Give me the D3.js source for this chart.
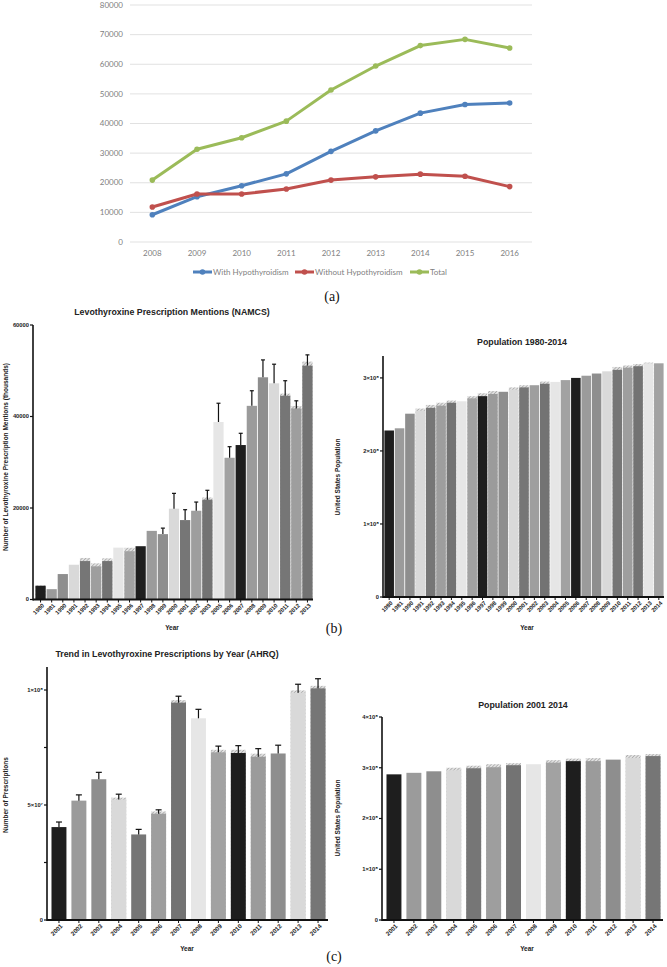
<!DOCTYPE html>
<html>
<head>
<meta charset="utf-8">
<script src="https://cdn.jsdelivr.net/npm/d3@7"></script>
<style>
  body { margin: 0; background: #fff; }
  svg { display: block; }
</style>
</head>
<body>
<script>
// ---- panel (a) data
const yearsA = ["2008","2009","2010","2011","2012","2013","2014","2015","2016"];
const withHypo = [9200, 15300, 19000, 23000, 30600, 37500, 43500, 46400, 46900];
const withoutHypo = [11800, 16200, 16200, 17900, 20900, 22000, 22900, 22200, 18700];
const totalA = [20900, 31300, 35200, 40800, 51300, 59400, 66300, 68400, 65500];
const seriesNames = ["With Hypothyroidism", "Without Hypothyroidism", "Total"];
const ticksA = [0, 10000, 20000, 30000, 40000, 50000, 60000, 70000, 80000];

// ---- panel (b) left: NAMCS mentions (thousands)
const yearsNamcs = ["1980","1981","1990","1991","1992","1993","1994","1995","1996","1997","1998","1999",
  "2000","2001","2002","2003","2005","2006","2007","2008","2009","2010","2011","2012","2013"];
const namcs = [3000, 2260, 5560, 7600, 8400, 7250, 8400, 11340, 10550, 11650, 15000, 14290,
  19850, 17360, 19400, 21820, 38800, 30980, 33760, 42330, 48570, 47250, 44530, 41760, 51120];
const namcsErr = [null, null, null, null, null, null, null, null, null, null, null, 15600,
  23200, 19630, 21300, 23870, 42900, 33400, 36330, 45630, 52370, 51430, 47820, 43430, 53470];
const namcsHatch = [3100, null, null, null, 9080, 7900, 9000, null, 11300, null, null, null,
  null, null, null, 22300, null, null, null, null, null, null, 45000, 42300, 52000];
const ticksNamcs = [0, 20000, 40000, 60000];

// ---- panel (b) right: population 1980-2014
const yearsPop1 = ["1980","1981","1990","1991","1992","1993","1994","1995","1996","1997","1998","1999",
  "2000","2001","2002","2003","2004","2005","2006","2007","2008","2009","2010","2011","2012","2013","2014"];
const pop1 = [2.28e8, 2.31e8, 2.51e8, 2.55e8, 2.59e8, 2.62e8, 2.66e8, 2.68e8, 2.72e8, 2.75e8, 2.78e8, 2.81e8,
  2.84e8, 2.87e8, 2.90e8, 2.92e8, 2.945e8, 2.97e8, 3.00e8, 3.03e8, 3.06e8, 3.09e8, 3.11e8, 3.14e8, 3.16e8, 3.20e8, 3.20e8];
const pop1Hatch = [null, null, null, 2.58e8, 2.63e8, 2.66e8, 2.69e8, null, 2.75e8, 2.79e8, 2.82e8, null,
  2.87e8, 2.90e8, null, 2.95e8, null, null, null, null, null, null, 3.15e8, 3.17e8, 3.19e8, 3.21e8, null];
const ticksPop1 = [0, 1e8, 2e8, 3e8];

// ---- panel (c) left: AHRQ prescriptions
const yearsAhrq = ["2001","2002","2003","2004","2005","2006","2007","2008","2009","2010","2011","2012","2013","2014"];
const ahrq = [40.4e6, 51.9e6, 61.2e6, 52.4e6, 37.2e6, 46.2e6, 94.5e6, 87.7e6, 72.9e6, 72.6e6, 71.0e6, 72.4e6, 98.8e6, 100.7e6];
const ahrqErr = [42.6e6, 54.4e6, 64.2e6, 54.7e6, 39.4e6, 47.9e6, 97.3e6, 91.6e6, 75.6e6, 75.8e6, 74.5e6, 76.0e6, 102.5e6, 104.9e6];
const ahrqHatch = [null, null, null, 53.2e6, null, 47.2e6, 95.6e6, null, 74.0e6, 74.0e6, 72.3e6, null, 99.8e6, 101.8e6];
const ticksAhrq = [0, 2.5e7, 5e7, 7.5e7, 1e8];

// ---- panel (c) right: population 2001-2014
const yearsPop2 = ["2001","2002","2003","2004","2005","2006","2007","2008","2009","2010","2011","2012","2013","2014"];
const pop2 = [2.87e8, 2.90e8, 2.93e8, 2.95e8, 2.99e8, 3.01e8, 3.05e8, 3.07e8, 3.10e8, 3.13e8, 3.13e8, 3.16e8, 3.19e8, 3.23e8];
const pop2Hatch = [null, null, null, 3.00e8, 3.04e8, 3.07e8, 3.09e8, null, 3.15e8, 3.18e8, 3.19e8, null, 3.25e8, 3.27e8];
const ticksPop2 = [0, 1e8, 2e8, 3e8, 4e8];

const lineColors = ["#4f81bd", "#c0504d", "#9bbb59"];
const grays = ["#1e1e1e", "#9b9b9b", "#8e8e8e", "#d9d9d9", "#767676", "#9e9e9e", "#737373", "#e6e6e6", "#a2a2a2"];
const sans = "'Liberation Sans', Arial, Helvetica, sans-serif";

const svg = d3.select("body").append("svg")
  .attr("width", 667)
  .attr("height", 967);

const defs = svg.append("defs");
const hatch = defs.append("pattern")
  .attr("id", "hatch")
  .attr("patternUnits", "userSpaceOnUse")
  .attr("width", 2.5).attr("height", 2.5)
  .attr("patternTransform", "rotate(45)");
hatch.append("rect").attr("width", 2.5).attr("height", 2.5).attr("fill", "#e2e2e2");
hatch.append("line").attr("x1", 0).attr("y1", 0).attr("x2", 0).attr("y2", 2.5)
  .attr("stroke", "#8a8a8a").attr("stroke-width", 1);

// ================= panel (a): line chart
function drawLines() {
  const g = svg.append("g");
  const x = d3.scaleBand().domain(yearsA).range([130, 532]);
  const y = d3.scaleLinear().domain([0, 80000]).range([242, 5]);
  const cx = d => x(d) + x.bandwidth() / 2;

  g.selectAll(".grid").data(ticksA).join("line")
    .attr("x1", 130).attr("x2", 532)
    .attr("y1", d => y(d)).attr("y2", d => y(d))
    .attr("stroke", "#d9d9d9").attr("stroke-width", 0.8);

  g.selectAll(".ylab").data(ticksA).join("text")
    .attr("x", 123).attr("y", d => y(d)).attr("dy", "0.33em")
    .attr("text-anchor", "end")
    .attr("font-family", "Lato, 'Open Sans', sans-serif").attr("font-size", 8)
    .attr("fill", "#808080")
    .text(d => d);

  g.selectAll(".xlab").data(yearsA).join("text")
    .attr("x", d => cx(d)).attr("y", 256)
    .attr("text-anchor", "middle")
    .attr("font-family", "Lato, 'Open Sans', sans-serif").attr("font-size", 8)
    .attr("fill", "#808080")
    .text(d => d);

  const series = [withHypo, withoutHypo, totalA];
  const line = d3.line().x((d, i) => cx(yearsA[i])).y(d => y(d));
  series.forEach((vals, k) => {
    g.append("path").datum(vals)
      .attr("d", line)
      .attr("fill", "none")
      .attr("stroke", lineColors[k])
      .attr("stroke-width", 3)
      .attr("stroke-linejoin", "round");
    g.selectAll(".pt" + k).data(vals).join("circle")
      .attr("cx", (d, i) => cx(yearsA[i])).attr("cy", d => y(d))
      .attr("r", 2.8).attr("fill", lineColors[k]);
  });

  // legend
  const legX = [193, 295, 410];
  const leg = g.selectAll(".leg").data(seriesNames).join("g")
    .attr("transform", (d, i) => `translate(${legX[i]},272)`);
  leg.append("line").attr("x1", 0).attr("x2", 19).attr("y1", 0).attr("y2", 0)
    .attr("stroke", (d, i) => lineColors[i]).attr("stroke-width", 3);
  leg.append("circle").attr("cx", 9.5).attr("cy", 0).attr("r", 2.8)
    .attr("fill", (d, i) => lineColors[i]);
  leg.append("text").attr("x", 20).attr("y", 0).attr("dy", "0.33em")
    .attr("font-family", "Lato, 'Open Sans', sans-serif").attr("font-size", 8)
    .attr("fill", "#808080")
    .text(d => d);
}

// ================= bar panels
function drawBars(cfg) {
  const g = svg.append("g");
  const x = d3.scaleBand().domain(cfg.cats).range([cfg.x0, cfg.x1]).paddingInner(cfg.pad).paddingOuter(cfg.pad / 2);
  const y = d3.scaleLinear().domain([0, cfg.max]).range([cfg.y0, cfg.y1]);
  const bw = x.bandwidth();
  const idx = d => cfg.cats.indexOf(d);

  // hatched caps behind bars
  g.selectAll(".hatch").data(cfg.cats.filter((c, i) => cfg.hatch && cfg.hatch[i] != null))
    .join("rect")
    .attr("x", d => x(d))
    .attr("width", bw)
    .attr("y", d => y(cfg.hatch[idx(d)]))
    .attr("height", d => y(0) - y(cfg.hatch[idx(d)]))
    .attr("fill", "url(#hatch)");

  g.selectAll(".bar").data(cfg.cats).join("rect")
    .attr("x", d => x(d))
    .attr("width", bw)
    .attr("y", (d, i) => y(cfg.vals[i]))
    .attr("height", (d, i) => y(0) - y(cfg.vals[i]))
    .attr("fill", (d, i) => grays[i % grays.length]);

  // error bars
  if (cfg.err) {
    const eb = g.selectAll(".err").data(cfg.cats.filter((c, i) => cfg.err[i] != null)).join("g");
    eb.append("line")
      .attr("x1", d => x(d) + bw / 2).attr("x2", d => x(d) + bw / 2)
      .attr("y1", d => y(cfg.vals[idx(d)])).attr("y2", d => y(cfg.err[idx(d)]))
      .attr("stroke", "#111").attr("stroke-width", 1.2);
    eb.append("line")
      .attr("x1", d => x(d) + bw / 2 - cfg.cap).attr("x2", d => x(d) + bw / 2 + cfg.cap)
      .attr("y1", d => y(cfg.err[idx(d)])).attr("y2", d => y(cfg.err[idx(d)]))
      .attr("stroke", "#111").attr("stroke-width", 1.2);
  }

  // axes
  g.append("line")
    .attr("x1", cfg.ax).attr("x2", cfg.ax)
    .attr("y1", y(cfg.max)).attr("y2", y(0) + 1)
    .attr("stroke", "#111").attr("stroke-width", 1.6);
  g.append("line")
    .attr("x1", cfg.ax).attr("x2", cfg.x1)
    .attr("y1", y(0)).attr("y2", y(0))
    .attr("stroke", "#111").attr("stroke-width", 2);

  g.selectAll(".yt").data(cfg.ticks).join("line")
    .attr("x1", cfg.ax - 3).attr("x2", cfg.ax)
    .attr("y1", d => y(d)).attr("y2", d => y(d))
    .attr("stroke", "#111").attr("stroke-width", 1.2);
  g.selectAll(".yl").data(cfg.ticks.filter(t => cfg.fmt(t) !== "")).join("text")
    .attr("x", cfg.ax - 4).attr("y", d => y(d)).attr("dy", "0.33em")
    .attr("text-anchor", "end")
    .attr("font-family", sans).attr("font-size", 5.8)
    .attr("font-weight", "bold").attr("fill", "#222")
    .text(cfg.fmt);

  g.selectAll(".xt").data(cfg.cats).join("line")
    .attr("x1", d => x(d) + bw / 2).attr("x2", d => x(d) + bw / 2)
    .attr("y1", y(0)).attr("y2", y(0) + 3)
    .attr("stroke", "#111").attr("stroke-width", 1);
  g.selectAll(".xl").data(cfg.cats).join("text")
    .attr("transform", d => `translate(${x(d) + bw / 2 + 2.5},${y(0) + 5}) rotate(-45)`)
    .attr("text-anchor", "end").attr("dy", "0.35em")
    .attr("font-family", sans).attr("font-size", cfg.xfs)
    .attr("font-weight", "bold").attr("fill", "#222")
    .text(d => d);

  g.append("text")
    .attr("x", cfg.titleX).attr("y", cfg.titleY)
    .attr("text-anchor", "middle")
    .attr("font-family", sans).attr("font-size", 8.8)
    .attr("font-weight", "bold").attr("fill", "#222")
    .text(cfg.title);

  g.append("text")
    .attr("x", cfg.titleX + (cfg.yearDx || 0)).attr("y", cfg.yearY)
    .attr("text-anchor", "middle")
    .attr("font-family", sans).attr("font-size", 6.5)
    .attr("font-weight", "bold").attr("fill", "#222")
    .text("Year");

  g.append("text")
    .attr("transform", `translate(${cfg.ylabX},${cfg.ylabY}) rotate(-90)`)
    .attr("text-anchor", "middle")
    .attr("font-family", sans).attr("font-size", 6.5)
    .attr("font-weight", "bold").attr("fill", "#222")
    .text(cfg.ylabel);
}

const sci = d => {
  if (d === 0) return "0";
  const e = Math.floor(Math.log10(d));
  const m = d / Math.pow(10, e);
  const sup = { 7: "\u2077", 8: "\u2078" };
  return `${+m.toFixed(1)}\u00d710${sup[e]}`;
};

drawLines();

drawBars({
  cats: yearsNamcs, vals: namcs, err: namcsErr, hatch: namcsHatch,
  x0: 35, x1: 313, y0: 599.5, y1: 325, max: 60000, pad: 0.08, cap: 2,
  ax: 33, ticks: ticksNamcs, fmt: d => String(d), xfs: 5.8,
  title: "Levothyroxine Prescription Mentions (NAMCS)", titleX: 172, titleY: 315, yearY: 630,
  ylabel: "Number of Levothyroxine Prescription Mentions (thousands)", ylabX: 8, ylabY: 457
});

drawBars({
  cats: yearsPop1, vals: pop1, err: null, hatch: pop1Hatch,
  x0: 384, x1: 664, y0: 597, y1: 356, max: 3.3e8, pad: 0.08, cap: 2,
  ax: 383, ticks: ticksPop1, fmt: sci, xfs: 5.8,
  title: "Population 1980-2014", titleX: 522, titleY: 345, yearY: 630, yearDx: 5,
  ylabel: "United States Population", ylabX: 340, ylabY: 477
});

drawBars({
  cats: yearsAhrq, vals: ahrq, err: ahrqErr, hatch: ahrqHatch,
  x0: 49, x1: 328, y0: 920, y1: 667, max: 1.1e8, pad: 0.25, cap: 3,
  ax: 47, ticks: ticksAhrq, fmt: d => (d % 5e7 === 0 ? sci(d) : ""), xfs: 6.2,
  title: "Trend in Levothyroxine Prescriptions by Year (AHRQ)", titleX: 167, titleY: 657, yearY: 951, yearDx: 20,
  ylabel: "Number of Prescriptions", ylabX: 8, ylabY: 795
});

drawBars({
  cats: yearsPop2, vals: pop2, err: null, hatch: pop2Hatch,
  x0: 384, x1: 663, y0: 920, y1: 717, max: 4e8, pad: 0.25, cap: 3,
  ax: 382, ticks: ticksPop2, fmt: sci, xfs: 6.2,
  title: "Population 2001 2014", titleX: 523, titleY: 708, yearY: 951, yearDx: 4,
  ylabel: "United States Population", ylabX: 340, ylabY: 818
});

// panel letters
const letters = [["(a)", 332, 301], ["(b)", 334, 633], ["(c)", 334, 961]];
svg.selectAll(".letter").data(letters).join("text")
  .attr("x", d => d[1]).attr("y", d => d[2])
  .attr("text-anchor", "middle")
  .attr("font-family", "'Liberation Serif', 'Times New Roman', serif").attr("font-size", 14)
  .attr("fill", "#111")
  .text(d => d[0]);
</script>
</body>
</html>
